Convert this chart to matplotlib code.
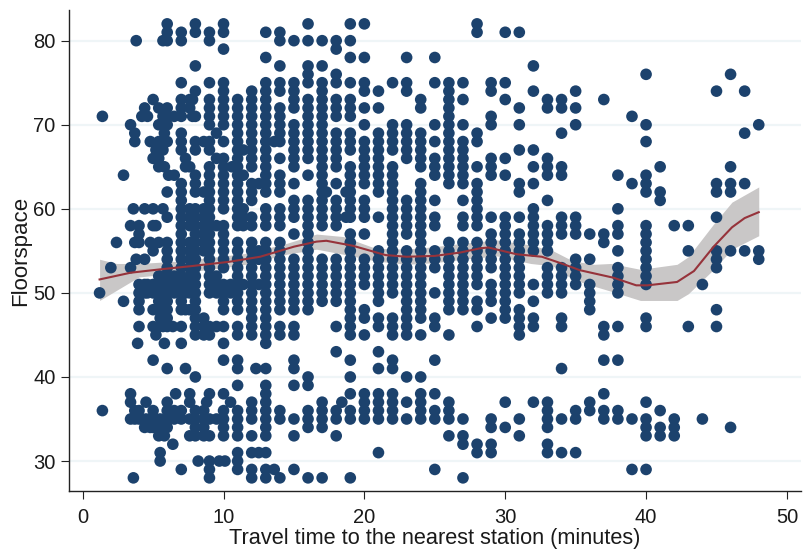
import matplotlib
matplotlib.use("Agg")
import matplotlib.pyplot as plt

plt.rcParams['font.family'] = ['Liberation Sans', 'DejaVu Sans']

# travel time -> floorspace values
columns = {
 1.2:[50], 1.4:[71,36], 2:[53], 2.4:[56], 2.9:[64,49],
 3.4:[70,58,53,38,37,35], 3.6:[60,28], 3.7:[69,68,56,36,35], 3.8:[80,54],
 3.9:[44], 4:[58,57,56,51,50,49,48,46,36,35], 4.2:[71], 4.4:[72,60,54,51,50,34],
 4.5:[37,35], 4.6:[71,50,51], 4.8:[68,56,35,34], 5:[73,66,60,58,55,51,50,48,46,42,36,35,34],
 5.2:[67,58,50,51,45,34], 5.4:[72,70,68,66,65,56,52,51,50,49,48,46,33], 5.5:[52,51,50,49,48,47,35,31,30],
 5.7:[80,71,67,60,46,51,34], 5.8:[69,65,44,33,52,50,48], 6:[82,81,80,72,71,70,68,62,59,56,55,54,53,52,51,50,49,48,47,46,41,37,36,35,34],
 6.1:[64], 6.4:[32,46], 6.5:[71,64,52,51,50,36,35], 6.6:[38],
 7:[81,80,75,73,72,71,69,68,67,63,62,61,60,59,58,57,56,55,54,53,52,51,50,49,48,46,44,36,35,29],
 7.3:[66,65,41,51,50,48], 7.6:[73,72,65,60,59,58,56,55,54,53,52,51,50,48,38,37,35,33], 7.8:[73,71,51,50],
 8:[82,81,77,74,71,68,67,64,63,62,60,59,58,57,56,55,54,53,52,51,50,49,48,47,46,45,40,36,35,34,33],
 8.2:[30], 8.6:[68,62,60,59,58,57,56,55,47,46,45,36,35,34,33],
 8.8:[37], 9:[81,80,75,73,72,71,70,68,67,65,64,63,62,61,60,59,58,57,56,55,54,53,52,51,50,46,45,38,35,33,30,29,28],
 9.5:[69,66,58,52,51,50,46,35], 9.7:[30],
 10:[82,81,79,75,74,73,72,71,70,68,66,65,64,63,62,61,60,58,57,56,55,54,53,51,50,49,48,46,44,42,38,36,35,34,33],
 10.1:[30], 10.5:[37,50,51], 10.6:[65],
 11:[73,72,71,70,69,68,67,66,65,64,63,62,61,60,59,58,56,55,54,53,52,51,50,49,48,46,45,42,41,39,36,35,34,33,31,30,29],
 11.4:[67,64,60,59,58,51],
 12:[74,73,72,71,70,69,68,67,66,65,63,62,61,59,58,56,55,54,53,52,51,50,49,48,47,46,45,37,36,35,33,31,29,28],
 12.3:[41], 12.5:[63,55,54,31,51],
 13:[81,78,75,74,73,72,71,70,69,68,67,66,65,64,63,62,60,59,58,56,55,54,53,52,51,50,49,48,47,46,45,44,41,39,38,37,36,35,34,33,31,29,28],
 13.6:[29,68],
 14:[81,80,77,75,74,72,71,70,69,68,66,64,63,62,60,59,58,56,55,54,53,52,51,50,49,48,46,45,36,35,28],
 15:[80,75,74,73,72,70,69,68,67,66,65,63,61,60,59,57,54,53,52,51,50,49,48,46,45,42,41,39,35,33,29],
 16:[82,80,77,76,75,73,72,71,70,69,68,67,66,64,61,60,59,58,57,56,55,54,53,52,51,50,49,48,40,39,36,35,34,28],
 17:[80,77,75,74,73,72,71,70,69,68,67,66,65,64,63,62,61,60,59,58,54,53,52,51,50,49,37,36,35,34,28],
 17.3:[62],
 18:[80,79,76,75,73,72,71,69,68,67,66,65,63,61,60,59,58,54,53,52,51,50,49,46,43,36,35,33],
 18.4:[37], 18.7:[62,59],
 19:[82,80,78,75,73,72,71,69,68,67,65,64,63,62,61,60,59,57,56,55,54,53,52,51,50,49,48,47,46,45,42,40,38,36,35,28],
 20:[82,78,75,74,72,70,68,67,66,65,64,63,61,60,59,57,54,53,52,51,48,47,45,38,37,36,35],
 21:[74,72,69,68,67,66,65,64,63,62,59,55,54,53,52,51,50,49,47,46,43,41,38,37,36,35,31],
 22:[75,70,69,68,67,65,64,63,62,61,60,59,58,57,56,55,54,53,52,51,50,47,46,45,42,41,38,37,36,35],
 23:[78,75,74,70,69,68,67,66,61,60,59,58,57,55,54,53,52,51,50,49,48,47,46,45,40,37,35],
 24:[73,72,69,68,67,66,65,63,62,61,60,59,58,57,56,55,54,53,52,51,50,49,48,47,45,40,38,37,36,35],
 25:[78,75,70,68,66,65,64,61,59,58,55,54,53,50,47,46,42,38,36,35,29],
 26:[75,74,73,72,71,70,69,68,67,66,65,64,63,56,55,54,53,52,51,50,49,48,45,37,36,35,33],
 27:[75,73,70,68,67,66,65,64,63,61,59,58,56,55,54,53,52,51,50,49,48,35,33,32,28],
 28:[82,81,69,68,65,63,62,61,60,59,58,56,55,54,53,52,51,49,48,46,32,31],
 29:[75,74,71,70,66,65,64,59,57,56,55,54,53,51,50,49,47,35,34,32,31],
 30:[81,75,73,66,64,59,58,57,56,55,54,53,52,51,50,49,48,47,37,34],
 31:[81,72,70,67,63,62,59,57,56,55,54,53,52,51,50,48,47,46,45,35,33],
 32:[77,74,67,65,63,60,59,58,57,56,55,51,49,47,46,37],
 33:[73,72,66,65,64,61,58,57,56,55,53,52,51,50,37,36,35,34,32,31],
 34:[73,72,69,65,64,59,58,57,53,52,51,50,47,46,41,35,31],
 35:[74,72,70,59,58,57,54,53,52,51,36,35,31],
 36:[57,54,51,50,49,48,37,36],
 37:[73,57,56,46,45,42,38,36,35],
 38:[64,60,58,57,55,53,52,51,50,46,42,36,35],
 39:[71,63,35,29],
 40:[76,70,68,64,63,62,58,57,56,55,54,53,52,51,47,46,37,35,34,33,29],
 41:[65,62,61,36,34,33],
 42:[58,35,34,33],
 43:[58,55,46],
 44:[51,35],
 45:[74,63,62,59,55,54,53,48,46],
 46:[76,65,63,62,55,34],
 47:[74,69,63,55],
 48:[70,55,54],
}

fit_x = [1.2,3.4,5.5,7.8,10.4,12.6,15,16.6,17.3,19.2,21.5,23,25,26.8,28.2,28.8,30.8,32.6,34,35.3,37.7,39.3,40.1,42.2,43.4,44.8,46.1,47,48]
fit_y = [51.6,52.4,52.8,53.2,53.7,54.3,55.5,56.1,56.2,55.6,54.5,54.3,54.4,54.8,55.3,55.4,54.6,54.3,53.5,52.7,51.8,50.9,50.9,51.3,52.6,55.5,57.8,58.9,59.6]
hi_x = [1.2,2.4,4,7,10,11.6,14.5,16.6,18.5,20.8,23,25,27,29.4,31.8,33.4,34.8,36.3,37.5,39.6,42.2,43,44.8,46.1,48]
hi_y = [54,53.5,53.5,53.8,54.4,54.7,55.9,57,56.7,55.3,55.2,55.5,55.9,56.3,55.7,55,53.8,53.4,53.5,52.8,53.4,54.3,58.2,60.8,62.6]
lo_y = [49.1,50.3,51.9,52.4,53,53.4,54.6,55.2,54.6,53.8,53.4,53.6,54,54.4,53.5,53.2,51.6,50.8,50.2,49.1,49.1,49.9,52.8,55.2,56.8]

x_ticks = [0,10,20,30,40,50]
y_ticks = [30,40,50,60,70,80]

fig = plt.figure(figsize=(8.05,5.49), dpi=100, facecolor='white')
ax = fig.add_axes([69.3/805, 1-491.3/549, (801-69.3)/805, (491.3-10)/549])

px = [k for k, v in columns.items() for _ in v]
py = [y for v in columns.values() for y in v]

ax.set_xlim(-0.95, 51.0)
ax.set_ylim(26.4, 83.65)
ax.set_axisbelow(True)
ax.yaxis.grid(True, color='#eff5f7', lw=1.6)
ax.xaxis.grid(False)
ax.fill_between(hi_x, lo_y, hi_y, color='#c9c7c7', lw=0, zorder=2)
ax.scatter(px, py, s=70, color='#1c426d', edgecolors='none', zorder=3)
ax.plot(fit_x, fit_y, color='#96333b', lw=1.5, zorder=4)

for s in ('top','right'):
    ax.spines[s].set_visible(False)
for s in ('left','bottom'):
    ax.spines[s].set_linewidth(1.0)
    ax.spines[s].set_color('#222222')
ax.set_xticks(x_ticks)
ax.set_yticks(y_ticks)
ax.tick_params(axis='both', labelsize=14.5, length=6, width=0.8, color='#222222', labelcolor='#1a1a1a')
ax.tick_params(axis='x', pad=6)
ax.tick_params(axis='y', pad=4)
ax.set_xlabel('Travel time to the nearest station (minutes)', fontsize=15.7, color='#1a1a1a', labelpad=1)
ax.set_ylabel('Floorspace', fontsize=16, color='#1a1a1a', labelpad=1.5)
fig.savefig('out.png', dpi=100)
